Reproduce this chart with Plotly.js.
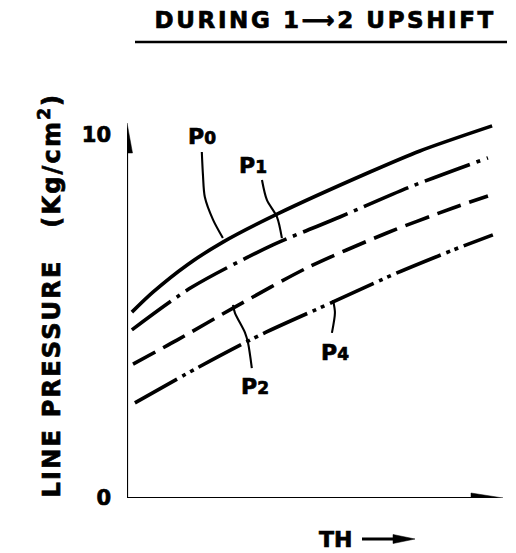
<!DOCTYPE html>
<html><head><meta charset="utf-8">
<script src="https://cdn.plot.ly/plotly-3.0.1.min.js"></script>
<style>body{margin:0;background:#fff}#chart{width:516px;height:553px}</style>
</head><body><div id="chart"></div>
<script>
// ---- data ----
const P0_x = [0.13, 0.69, 1.60, 2.55, 3.99, 6.46, 7.79, 9.71];
const P0_y = [5.12, 5.67, 6.42, 7.05, 7.82, 8.98, 9.56, 10.25];
const P1_x = [0.13, 1.73, 3.88, 5.66, 7.53, 9.60];
const P1_y = [4.63, 5.81, 6.97, 7.74, 8.57, 9.37];
const P2_x = [0.16, 1.33, 2.82, 4.79, 6.91, 8.67, 9.60];
const P2_y = [3.69, 4.35, 5.23, 6.34, 7.30, 7.99, 8.32];
const P4_x = [0.21, 1.86, 3.54, 5.48, 7.18, 8.67, 9.73];
const P4_y = [2.62, 3.58, 4.49, 5.40, 6.20, 6.83, 7.25];

// leader lines from labels to curves
const L0_x = [1.99, 2.02, 2.07, 2.29, 2.55];
const L0_y = [9.53, 8.90, 8.29, 7.66, 7.16];
const L1_x = [3.59, 3.72, 3.99, 4.12];
const L1_y = [8.76, 8.21, 7.74, 7.16];
const L2_x = [2.82, 2.87, 3.14, 3.22, 3.32];
const L2_y = [5.32, 5.10, 4.55, 4.27, 3.58];
const L4_x = [5.48, 5.53, 5.45];
const L4_y = [5.45, 5.10, 4.55];

const labelNames = ['P', 'P', 'P', 'P'];
const labelSubs = ['0', '1', '2', '4'];
const label_x = [1.99, 3.35, 3.40, 5.53];
const label_y = [9.97, 9.15, 3.06, 4.02];

const yTickVals = [0, 10];
const yTickText = ['0', '10'];
const titleText = 'DURING 1\u27F62 UPSHIFT';
const yTitleText = 'LINE PRESSURE\u00a0\u00a0\u00a0(Kg/cm<sup>2</sup>)';
const xTitleText = 'TH';

// ---- layout geometry ----
const ML = 127, MR = 13, MT = 123, MB = 55;
const PW = 516 - ML - MR, PH = 553 - MT - MB;
const XMAX = 10, YMAX = 10.33;
const pxX = px => (px - ML) / PW;           // page px -> paper x
const pxY = py => (553 - MB - py) / PH;     // page px -> paper y
const ux = PW / XMAX, uy = PH / YMAX;       // px per data unit

const FONT = 'DejaVu Sans';
const black = '#000';

function curve(x, y, dash, width) {
  return {x, y, type: 'scatter', mode: 'lines', hoverinfo: 'skip',
    line: {color: black, width: width, dash: dash, shape: 'spline', smoothing: 0.8}};
}

const traces = [
  curve(P0_x, P0_y, 'solid', 3.6),
  curve(P1_x, P1_y, '48px,7px,4px,7px', 3.6),
  curve(P2_x, P2_y, '25px,9px', 3.6),
  curve(P4_x, P4_y, '48px,6px,4px,5px,4px,6px', 3.6),
  curve(L0_x, L0_y, 'solid', 2.1),
  curve(L1_x, L1_y, 'solid', 2.1),
  curve(L2_x, L2_y, 'solid', 2.1),
  curve(L4_x, L4_y, 'solid', 2.1),
];

const annotations = [];
for (let i = 0; i < labelNames.length; i++) {
  annotations.push({
    x: label_x[i], y: label_y[i], xref: 'x', yref: 'y', showarrow: false,
    text: labelNames[i] + '<span style="font-size:17px">' + labelSubs[i] + '</span>',
    font: {family: FONT, size: 22, color: black, weight: 'bold'},
    xanchor: 'center', yanchor: 'middle'
  });
}
annotations.push({
  x: pxX(325), y: pxY(20), xref: 'paper', yref: 'paper', showarrow: false,
  text: titleText, font: {family: FONT, size: 23, color: black, weight: 'bold'},
  xanchor: 'center', yanchor: 'middle'
});
annotations.push({
  x: pxX(50), y: pxY(295), xref: 'paper', yref: 'paper', showarrow: false,
  text: yTitleText, textangle: -90,
  font: {family: FONT, size: 24, color: black, weight: 'bold'},
  xanchor: 'center', yanchor: 'middle'
});
annotations.push({
  x: pxX(335), y: pxY(539), xref: 'paper', yref: 'paper', showarrow: false,
  text: xTitleText, font: {family: FONT, size: 22, color: black, weight: 'bold'},
  xanchor: 'center', yanchor: 'middle'
});

// arrow head sizes (px)
const yHeadLen = 30, yHeadHalf = 5.5, xHeadLen = 32, xHeadHalf = 5;
const yTip = YMAX, yBase = YMAX - yHeadLen / uy, yHw = yHeadHalf / ux;
const xTip = XMAX, xBase = XMAX - xHeadLen / ux, xHh = xHeadHalf / uy;
const thTip = pxX(415), thBase = pxX(393), thHh = 4.5 / PH, thY = pxY(539);

const shapes = [
  // axes
  {type: 'line', xref: 'x', yref: 'y', x0: 0, y0: 0, x1: 0, y1: yBase + 0.05, line: {color: black, width: 2.2}},
  {type: 'line', xref: 'x', yref: 'y', x0: 0, y0: 0, x1: xBase + 0.05, y1: 0, line: {color: black, width: 2.2}},
  // arrow heads
  {type: 'path', xref: 'x', yref: 'y',
   path: `M0,${yTip} L${-yHw},${yBase} L${yHw},${yBase} Z`, fillcolor: black, line: {color: black, width: 0.5}},
  {type: 'path', xref: 'x', yref: 'y',
   path: `M${xTip},0 L${xBase},${xHh} L${xBase},${-xHh} Z`, fillcolor: black, line: {color: black, width: 0.5}},
  // title underline
  {type: 'line', xref: 'paper', yref: 'paper', x0: pxX(135), x1: pxX(507), y0: pxY(42), y1: pxY(42), line: {color: black, width: 2.5}},
  // TH arrow
  {type: 'line', xref: 'paper', yref: 'paper', x0: pxX(362), x1: thBase + 0.005, y0: thY, y1: thY, line: {color: black, width: 3}},
  {type: 'path', xref: 'paper', yref: 'paper',
   path: `M${thTip},${thY} L${thBase},${thY + thHh} L${thBase},${thY - thHh} Z`, fillcolor: black, line: {color: black, width: 0.5}},
];

const layout = {
  width: 516, height: 553,
  margin: {l: ML, r: MR, t: MT, b: MB, pad: 0},
  paper_bgcolor: '#fff', plot_bgcolor: '#fff',
  showlegend: false,
  xaxis: {range: [0, XMAX], showgrid: false, zeroline: false, showticklabels: false, showline: false, ticks: ''},
  yaxis: {range: [0, YMAX], showgrid: false, zeroline: false, showline: false, ticks: '',
    tickvals: yTickVals, ticktext: yTickText, ticklabelstandoff: 15,
    tickfont: {family: FONT, size: 21, color: black, weight: 'bold'}},
  annotations, shapes
};

Plotly.newPlot('chart', traces, layout, {staticPlot: true, displayModeBar: false}).then(() => {
  document.querySelectorAll('.annotation').forEach(g => {
    const idx = +g.getAttribute('data-index');
    const t = g.querySelector('text');
    if (!t) return;
    t.style.stroke = black;
    t.style.strokeWidth = '0.7px';
    if (idx === 4) t.style.letterSpacing = '2.6px';
    if (idx === 5) t.style.letterSpacing = '2.2px';
  });
  document.querySelectorAll('.ytick text').forEach(t => {
    t.style.stroke = black;
    t.style.strokeWidth = '0.7px';
  });
});
</script></body></html>
